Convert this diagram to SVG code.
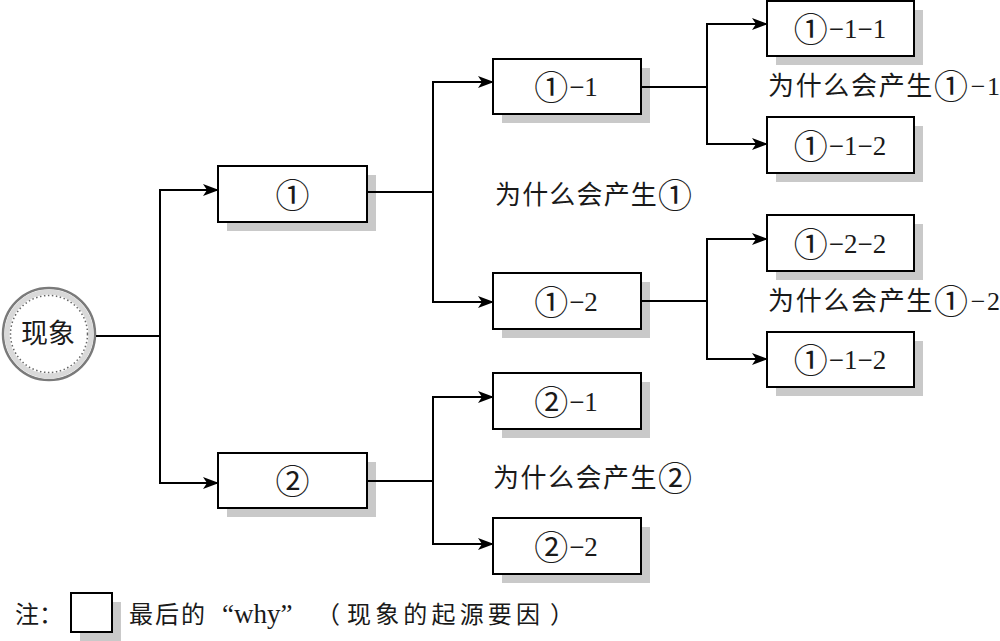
<svg xmlns="http://www.w3.org/2000/svg" width="1000" height="641" viewBox="0 0 1000 641">
<style>
.bx{fill:#fff;stroke:#000;stroke-width:2}
.sh{fill:#c9c9c9;stroke:none}
.t{font-family:"Liberation Serif","Noto Sans CJK SC",serif;font-size:27px;fill:#1a1a1a}
.c{text-anchor:middle}
.cd{font-family:"Noto Sans CJK SC",sans-serif;font-size:34px;letter-spacing:1px}
.lb{font-size:26px}
.lg{font-size:24px}
.ln{fill:none;stroke:#000;stroke-width:2}
</style>
<defs>
<marker id="ar" markerWidth="16" markerHeight="12" refX="15" refY="6" orient="auto" markerUnits="userSpaceOnUse">
<path d="M0,0 L16,6 L0,12 L4,6 z" fill="#000"/>
</marker>
</defs>
<rect width="1000" height="641" fill="#fff"/>

<g id="root">
<circle cx="49" cy="334" r="46" fill="#fff" stroke="#7a7a7a" stroke-width="2.5"/>
<circle cx="49" cy="334" r="42" fill="none" stroke="#d9d9d9" stroke-width="5"/>
<circle cx="49" cy="334" r="38.5" fill="none" stroke="#666" stroke-width="1.5" stroke-dasharray="1.5 2.5"/>
<text class="t c" x="48" y="343" font-size="26">现象</text>
</g>

<g id="n1">
<rect class="sh" x="227" y="175" width="149" height="56"/>
<rect class="bx" x="218" y="166" width="149" height="56"/>
<text class="t c" x="293" y="204"><tspan class="cd" dy="4" letter-spacing="0">①</tspan></text>
</g>
<g id="n1-1">
<rect class="sh" x="502" y="68" width="148" height="55"/>
<rect class="bx" x="493" y="59" width="148" height="55"/>
<text class="t c" x="566" y="96"><tspan class="cd" dy="4">①</tspan><tspan dy="-4">−1</tspan></text>
</g>
<g id="n1-2">
<rect class="sh" x="502" y="282" width="148" height="56"/>
<rect class="bx" x="493" y="273" width="148" height="56"/>
<text class="t c" x="566" y="311"><tspan class="cd" dy="4">①</tspan><tspan dy="-4">−2</tspan></text>
</g>
<g id="n1-1-1">
<rect class="sh" x="776" y="10" width="147" height="55"/>
<rect class="bx" x="767" y="1" width="147" height="55"/>
<text class="t c" x="840" y="38"><tspan class="cd" dy="4">①</tspan><tspan dy="-4">−1−1</tspan></text>
</g>
<g id="n1-1-2">
<rect class="sh" x="776" y="126" width="147" height="56"/>
<rect class="bx" x="767" y="117" width="147" height="56"/>
<text class="t c" x="840" y="155"><tspan class="cd" dy="4">①</tspan><tspan dy="-4">−1−2</tspan></text>
</g>
<g id="n1-2-2">
<rect class="sh" x="776" y="224" width="147" height="56"/>
<rect class="bx" x="767" y="215" width="147" height="56"/>
<text class="t c" x="840" y="253"><tspan class="cd" dy="4">①</tspan><tspan dy="-4">−2−2</tspan></text>
</g>
<g id="n1-2-x">
<rect class="sh" x="776" y="341" width="147" height="55"/>
<rect class="bx" x="767" y="332" width="147" height="55"/>
<text class="t c" x="840" y="369"><tspan class="cd" dy="4">①</tspan><tspan dy="-4">−1−2</tspan></text>
</g>
<g id="n2">
<rect class="sh" x="227" y="462" width="149" height="55"/>
<rect class="bx" x="218" y="453" width="149" height="55"/>
<text class="t c" x="293" y="490"><tspan class="cd" dy="4" letter-spacing="0">②</tspan></text>
</g>
<g id="n2-1">
<rect class="sh" x="502" y="382" width="148" height="56"/>
<rect class="bx" x="493" y="373" width="148" height="56"/>
<text class="t c" x="566" y="411"><tspan class="cd" dy="4">②</tspan><tspan dy="-4">−1</tspan></text>
</g>
<g id="n2-2">
<rect class="sh" x="502" y="527" width="148" height="56"/>
<rect class="bx" x="493" y="518" width="148" height="56"/>
<text class="t c" x="566" y="556"><tspan class="cd" dy="4">②</tspan><tspan dy="-4">−2</tspan></text>
</g>

<g id="connectors">
<path class="ln" d="M96,336 H160"/>
<path class="ln" d="M160,336 V190 H218" marker-end="url(#ar)"/>
<path class="ln" d="M160,336 V483 H218" marker-end="url(#ar)"/>
<path class="ln" d="M367,192 H433"/>
<path class="ln" d="M433,192 V82 H493" marker-end="url(#ar)"/>
<path class="ln" d="M433,192 V302 H493" marker-end="url(#ar)"/>
<path class="ln" d="M641,87 H707"/>
<path class="ln" d="M707,87 V24 H767" marker-end="url(#ar)"/>
<path class="ln" d="M707,87 V144 H767" marker-end="url(#ar)"/>
<path class="ln" d="M641,301 H707"/>
<path class="ln" d="M707,301 V239 H767" marker-end="url(#ar)"/>
<path class="ln" d="M707,301 V359 H767" marker-end="url(#ar)"/>
<path class="ln" d="M367,481 H433"/>
<path class="ln" d="M433,481 V397 H493" marker-end="url(#ar)"/>
<path class="ln" d="M433,481 V544 H493" marker-end="url(#ar)"/>
</g>

<g id="labels">
<text class="t lb" x="768" y="95" textLength="232" lengthAdjust="spacing">为什么会产生<tspan class="cd" dy="4">①</tspan><tspan dy="-4">−1</tspan></text>
<text class="t lb" x="495" y="204" textLength="198" lengthAdjust="spacing">为什么会产生<tspan class="cd" dy="4">①</tspan></text>
<text class="t lb" x="768" y="310" textLength="232" lengthAdjust="spacing">为什么会产生<tspan class="cd" dy="4">①</tspan><tspan dy="-4">−2</tspan></text>
<text class="t lb" x="493" y="487" textLength="200" lengthAdjust="spacing">为什么会产生<tspan class="cd" dy="4">②</tspan></text>
</g>

<g id="legend">
<text class="t lg" x="15" y="623">注：</text>
<rect class="sh" x="80" y="602" width="41" height="39"/>
<rect class="bx" x="71" y="593" width="41" height="39"/>
<text class="t lg" x="129" y="623" letter-spacing="2">最后的</text>
<text class="t" x="222" y="623" font-size="30">“why”</text>
<text class="t lg" x="316" y="623">（</text>
<text class="t lg" x="347" y="623" textLength="193" lengthAdjust="spacing">现象的起源要因</text>
<text class="t lg" x="550" y="623">）</text>
</g>
</svg>
